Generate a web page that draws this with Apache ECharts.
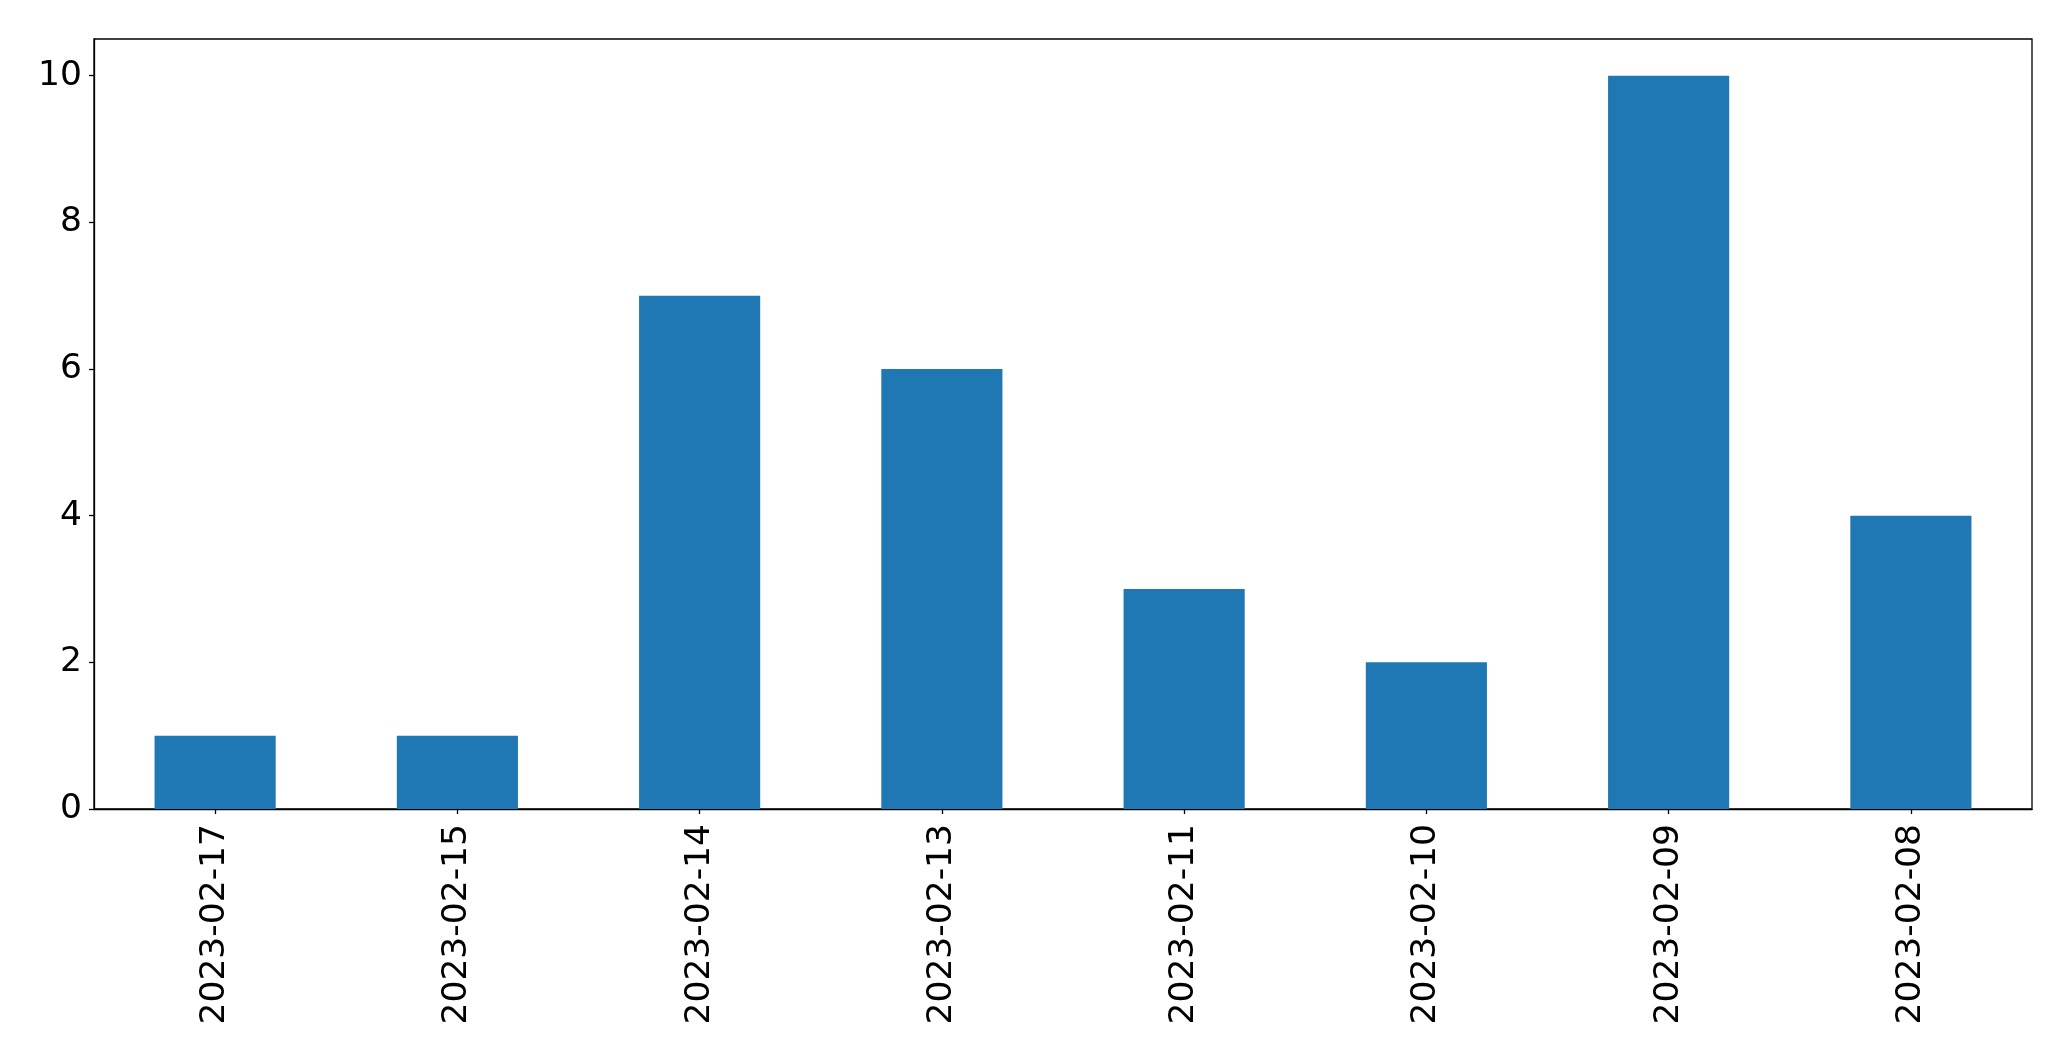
<!DOCTYPE html>
<html>
<head>
<meta charset="utf-8">
<script src="https://cdn.jsdelivr.net/npm/echarts@6/dist/echarts.min.js"></script>
<style>
html, body { margin: 0; padding: 0; background: #fff; }
#chart { width: 2071px; height: 1061px; }
</style>
</head>
<body>
<div id="chart"></div>
<script>
const categories = ["2023-02-17", "2023-02-15", "2023-02-14", "2023-02-13", "2023-02-11", "2023-02-10", "2023-02-09", "2023-02-08"];
const counts = [1, 1, 7, 6, 3, 2, 10, 4];
const yTicks = [0, 2, 4, 6, 8, 10];

const chart = echarts.init(document.getElementById('chart'), null, { renderer: 'canvas' });
const FONT = 'DejaVu Sans';
chart.setOption({
  animation: false,
  backgroundColor: '#ffffff',
  grid: {
    left: 94, top: 39, width: 1938, height: 770,
    show: true, borderColor: '#000', borderWidth: 1.3, backgroundColor: 'transparent'
  },
  xAxis: {
    type: 'category',
    data: categories,
    boundaryGap: true,
    axisLine: { show: true, lineStyle: { color: '#000', width: 1.3 } },
    axisTick: { show: true, alignWithLabel: true, length: 5, lineStyle: { color: '#000', width: 1.3 } },
    axisLabel: { rotate: 90, color: '#000', fontSize: 34.5, fontFamily: FONT, margin: 15, interval: 0 },
    splitLine: { show: false }
  },
  yAxis: {
    type: 'value',
    min: 0, max: 10.5,
    axisLine: { show: true, lineStyle: { color: '#000', width: 1.3 } },
    axisTick: { show: true, length: 5, customValues: yTicks, lineStyle: { color: '#000', width: 1.3 } },
    axisLabel: { color: '#000', fontSize: 34.5, fontFamily: FONT, margin: 12, customValues: yTicks },
    splitLine: { show: false }
  },
  series: [{
    type: 'bar',
    data: counts,
    barWidth: '50%',
    itemStyle: { color: '#1f77b4' }
  }]
});
</script>
</body>
</html>
